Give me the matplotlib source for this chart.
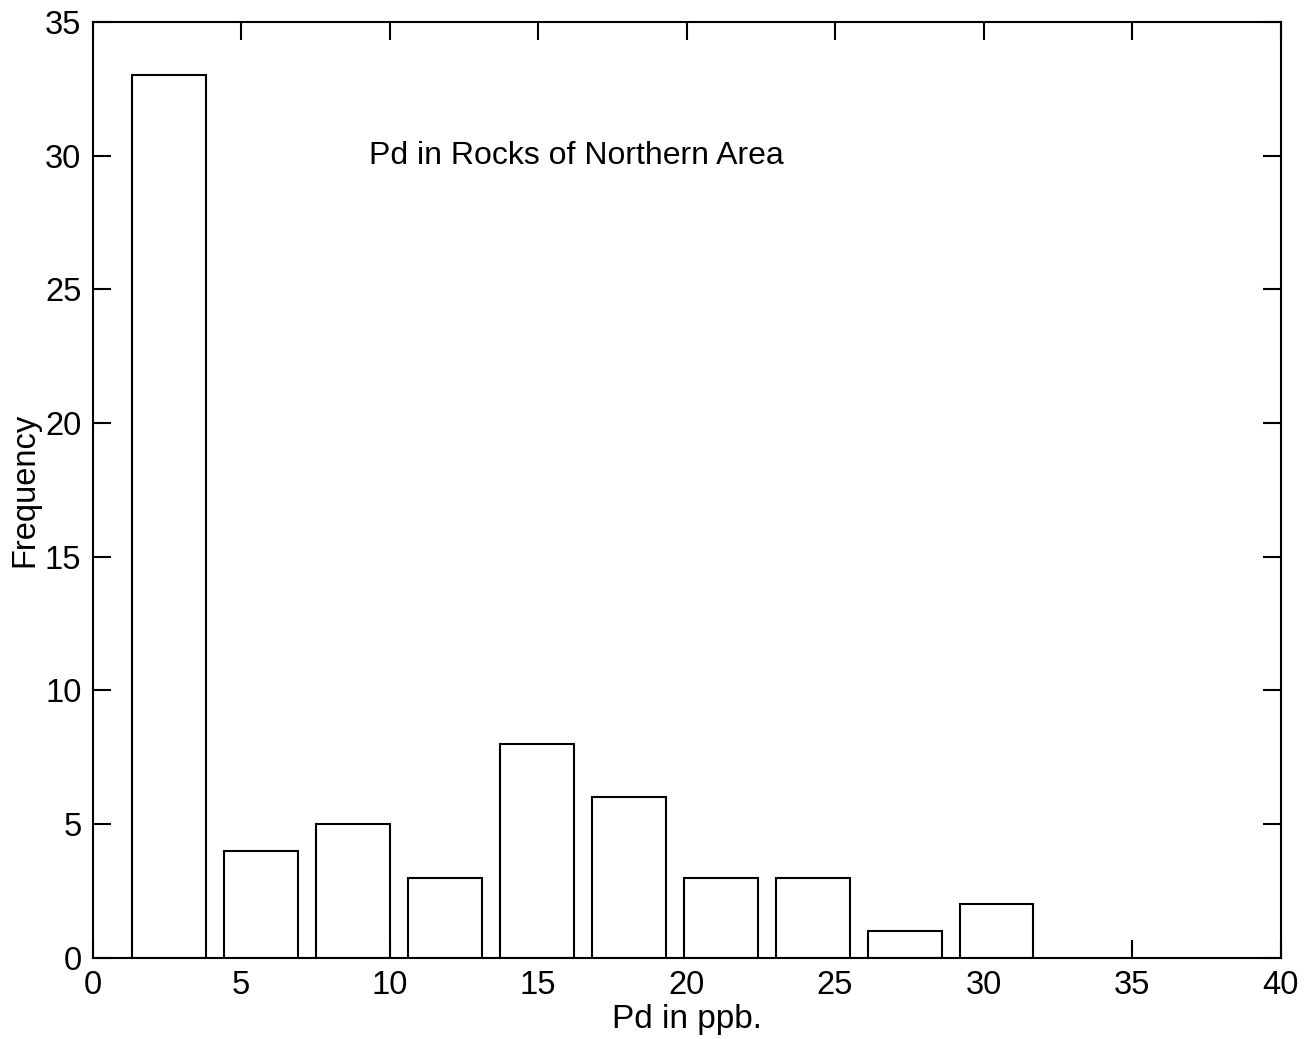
import matplotlib
matplotlib.use("Agg")
import matplotlib.pyplot as plt

plt.rcParams['font.family'] = ['Liberation Sans', 'DejaVu Sans']

# Histogram of Pd concentrations (10 equal-width bins)
bin_centers = [2.58, 5.68, 8.77, 11.87, 14.96, 18.06, 21.16, 24.25, 27.35, 30.44]
counts = [33, 4, 5, 3, 8, 6, 3, 3, 1, 2]
bin_spacing = 3.096

x_ticks = [0, 5, 10, 15, 20, 25, 30, 35, 40]
y_ticks = [0, 5, 10, 15, 20, 25, 30, 35]

fig = plt.figure(figsize=(13.04, 10.39), dpi=100)
ax = fig.add_axes([0.071, 0.078, 0.911, 0.901])

ax.bar(bin_centers, counts, width=0.8 * bin_spacing, color='white',
       edgecolor='black', linewidth=1.5, zorder=2)

ax.set_xlim(0, 40)
ax.set_ylim(0, 35)
ax.set_xticks(x_ticks)
ax.set_yticks(y_ticks)
ax.tick_params(direction='in', length=13, width=1.5, top=True, right=True,
               labelsize=23.5, colors='black')
ax.tick_params(axis='y', pad=8)
ax.tick_params(axis='x', pad=9)
for s in ax.spines.values():
    s.set_linewidth(1.5)

ax.set_xlabel('Pd in ppb.', fontsize=24, labelpad=2)
ax.set_ylabel('Frequency', fontsize=23.5, labelpad=3)
ax.text(9.3, 30.0, 'Pd in Rocks of Northern Area', fontsize=23,
        ha='left', va='center')

fig.savefig('out.png', dpi=100, facecolor='white')
